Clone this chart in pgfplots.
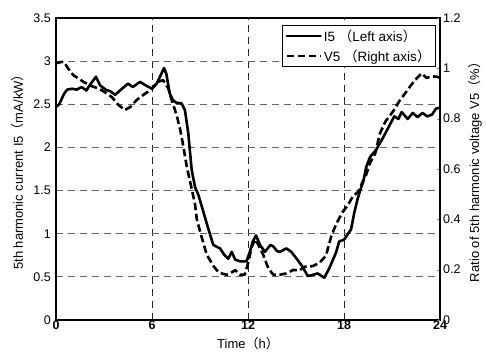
\documentclass[border=0pt]{standalone}
\usepackage{fontspec}
\setmainfont{Liberation Sans}
\newfontfamily\jp{Noto Sans CJK JP}
\usepackage{pgfplots}
\pgfplotsset{compat=1.18}

% full-width parentheses
\newcommand{\lp}{{\jp （}}
\newcommand{\rp}{{\jp ）}}

\pgfplotstableread{
h    i5
0    2.47
0.2  2.50
0.5  2.62
0.7  2.67
1.0  2.68
1.3  2.67
1.6  2.70
1.9  2.66
2.1  2.72
2.5  2.82
2.75 2.72
3.1  2.67
3.4  2.65
3.7  2.61
4.0  2.66
4.5  2.74
4.8  2.70
5.25 2.76
5.6  2.72
6.0  2.68
6.3  2.74
6.6  2.86
6.75 2.92
6.9  2.85
7.1  2.63
7.3  2.55
7.5  2.52
7.85 2.51
8.06 2.43
8.27 2.16
8.48 1.74
8.69 1.54
8.9  1.45
9.2  1.26
9.5  1.07
9.83 0.87
10.25 0.83
10.5 0.76
10.77 0.71
10.98 0.79
11.2 0.70
11.5 0.68
11.9 0.68
12.1 0.78
12.3 0.91
12.5 0.98
12.75 0.87
13.06 0.79
13.4 0.87
13.6 0.85
13.8 0.80
14.0 0.79
14.4 0.83
14.7 0.79
15.0 0.72
15.4 0.62
15.73 0.51
16.0 0.52
16.35 0.54
16.77 0.49
17.08 0.60
17.5 0.78
17.7 0.91
18.0 0.93
18.44 1.05
18.65 1.25
18.86 1.41
19.06 1.53
19.2 1.60
19.4 1.78
19.63 1.89
20.0 1.97
20.4 2.10
20.8 2.24
21.14 2.36
21.4 2.33
21.6 2.41
21.98 2.33
22.3 2.40
22.6 2.35
22.9 2.40
23.2 2.36
23.5 2.38
23.75 2.45
24   2.46
}\currentdata

\pgfplotstableread{
h    v5
0    1.020
0.3  1.025
0.5  1.026
0.75 1.000
1.08 0.973
1.4  0.960
1.7  0.947
2.2  0.930
2.65 0.920
3.06 0.905
3.5  0.885
3.9  0.855
4.3  0.834
4.65 0.847
5.04 0.874
5.45 0.894
5.9  0.914
6.19 0.934
6.4  0.947
6.7  0.953
7.02 0.920
7.2  0.880
7.54 0.814
7.75 0.760
7.96 0.690
8.17 0.610
8.38 0.550
8.69 0.460
8.8  0.400
9.1  0.330
9.42 0.260
9.83 0.215
10.15 0.190
10.46 0.183
10.67 0.180
11.0 0.190
11.2 0.198
11.5 0.180
11.8 0.180
12.0 0.225
12.23 0.290
12.44 0.320
12.64 0.300
12.96 0.258
13.27 0.205
13.58 0.180
14.0 0.180
14.4 0.185
14.83 0.199
15.2 0.197
15.56 0.212
16.04 0.214
16.46 0.227
16.87 0.255
17.19 0.330
17.5 0.380
17.92 0.430
18.23 0.455
18.54 0.490
18.9 0.510
19.17 0.550
19.4 0.580
19.63 0.625
19.94 0.660
20.25 0.742
20.6 0.790
21.08 0.830
21.5 0.874
21.81 0.900
22.2 0.934
22.54 0.960
22.85 0.980
23.15 0.962
23.45 0.968
23.8 0.967
24   0.962
}\voltagedata

\tikzset{
  i5line/.style={black, line width=2.6pt, line join=round, line cap=round},
  v5line/.style={black, line width=2.6pt, line join=round, dash pattern=on 7.5pt off 3.5pt},
}

\pgfplotsset{
  common/.style={
    scale only axis,
    width=384pt, height=302pt,
    xmin=0, xmax=24,
    axis line style={line width=1.4pt},
    tick label style={font=\fontsize{12.5}{14}\selectfont},
    label style={font=\fontsize{13}{15}\selectfont},
    /pgf/number format/assume math mode=true,
  },
}

\begin{document}
\begin{tikzpicture}
\useasboundingbox (-56pt,-38pt) rectangle (430pt,320pt);

% left axis: harmonic current
\begin{axis}[
  common,
  ymin=0, ymax=3.5,
  xtick={0,6,12,18,24},
  ytick={0,0.5,...,3.5},
  yticklabels={0,0.5,1,1.5,2,2.5,3,3.5},
  major tick length=0pt,
  xticklabel style={font=\fontsize{12.5}{14}\selectfont\bfseries, inner sep=0.5pt, anchor=north},
  yticklabel style={inner sep=0pt, xshift=-5pt},
  grid=major,
  x grid style={black!85, line width=0.8pt, dash pattern=on 7pt off 5pt},
  y grid style={black!60, line width=0.8pt, dash pattern=on 7pt off 5pt},
  xlabel={Time\lp h\rp},
  xlabel style={at={(axis description cs:0.5,0)}, anchor=center, yshift=-24pt},
  ylabel={5th harmonic current I5\lp mA/kW\rp},
  ylabel style={at={(axis description cs:0,0.5)}, anchor=center, yshift=38pt},
]
\addplot[i5line] table[x=h, y=i5] {\currentdata};
\end{axis}

% right axis: harmonic voltage ratio
\begin{axis}[
  common,
  ymin=0, ymax=1.2,
  axis x line=none,
  axis y line*=right,
  ytick={0,0.2,...,1.2},
  yticklabels={0,0.2,0.4,0.6,0.8,1,1.2},
  ytick align=inside,
  major tick length=3pt,
  yticklabel style={inner sep=0pt, xshift=3pt, anchor=west},
  ylabel={Ratio of 5th harmonic voltage V5\lp\%\rp},
  ylabel style={at={(axis description cs:1,0.5)}, anchor=center, yshift=-35pt},
  legend style={
    at={(axis description cs:0.9896,0.9768)}, anchor=north east,
    draw=black, line width=1pt, fill=white,
    font=\fontsize{13.5}{15}\selectfont,
    inner xsep=3pt, inner ysep=2pt,
    row sep=3pt,
    cells={anchor=west},
  },
  legend image code/.code={\draw[#1] (0pt,0pt) -- (34pt,0pt);},
]
\addlegendimage{i5line}
\addlegendentry{I5 \lp Left axis\rp}
\addplot[v5line] table[x=h, y=v5] {\voltagedata};
\addlegendentry{V5 \lp Right axis\rp}
\end{axis}
\end{tikzpicture}
\end{document}
